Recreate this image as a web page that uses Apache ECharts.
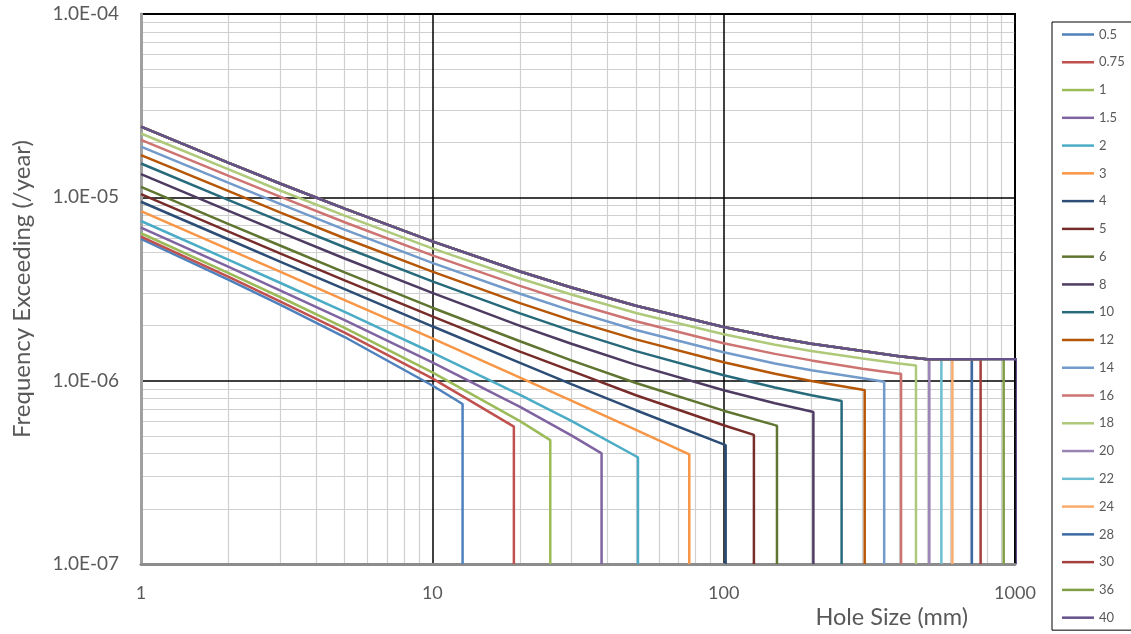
<!DOCTYPE html>
<html>
<head>
<meta charset="utf-8">
<script src="https://cdn.jsdelivr.net/npm/echarts@6/dist/echarts.min.js"></script>
<style>
  html, body { margin: 0; padding: 0; background: #fff; }
  #chart { width: 1131px; height: 634px; }
</style>
</head>
<body>
<div id="chart"></div>
<script>
// ---- data ----
const pipeSizes = ['0.5','0.75','1','1.5','2','3','4','5','6','8','10','12','14','16','18','20','22','24','28','30','36','40'];
const maxHoleMm = [12.7, 19.05, 25.4, 38.1, 50.8, 76.2, 101.6, 127, 152.4, 203.2, 254, 304.8, 355.6, 406.4, 457.2, 508, 558.8, 609.6, 711.2, 762, 914.4, 1016];
const holeSizes = [1, 2, 3, 5, 10, 20, 30, 50, 100, 150, 200, 300, 400, 500];

const freq_0_5  = [5.93e-6, 3.55e-6, 2.60e-6, 1.73e-6, 9.41e-7];
const freq_0_75 = [6.10e-6, 3.68e-6, 2.71e-6, 1.83e-6, 1.03e-6];
const freq_1    = [6.37e-6, 3.86e-6, 2.86e-6, 1.94e-6, 1.11e-6, 6.02e-7];
const freq_1_5  = [6.83e-6, 4.17e-6, 3.11e-6, 2.14e-6, 1.26e-6, 7.19e-7, 5.03e-7];
const freq_2    = [7.43e-6, 4.56e-6, 3.42e-6, 2.37e-6, 1.42e-6, 8.36e-7, 6.03e-7, 3.87e-7];
const freq_3    = [8.41e-6, 5.20e-6, 3.93e-6, 2.75e-6, 1.70e-6, 1.04e-6, 7.79e-7, 5.39e-7];
const freq_4    = [9.46e-6, 5.89e-6, 4.46e-6, 3.16e-6, 1.98e-6, 1.25e-6, 9.57e-7, 6.90e-7, 4.49e-7];
const freq_5    = [1.04e-5, 6.50e-6, 4.95e-6, 3.52e-6, 2.24e-6, 1.44e-6, 1.13e-6, 8.33e-7, 5.71e-7];
const freq_6    = [1.14e-5, 7.15e-6, 5.46e-6, 3.90e-6, 2.50e-6, 1.64e-6, 1.29e-6, 9.71e-7, 6.86e-7, 5.72e-7];
const freq_8    = [1.34e-5, 8.44e-6, 6.46e-6, 4.64e-6, 3.01e-6, 1.99e-6, 1.59e-6, 1.22e-6, 8.86e-7, 7.53e-7, 6.79e-7];
const freq_10   = [1.53e-5, 9.65e-6, 7.41e-6, 5.34e-6, 3.48e-6, 2.33e-6, 1.87e-6, 1.45e-6, 1.07e-6, 9.18e-7, 8.33e-7];
const freq_12   = [1.70e-5, 1.08e-5, 8.27e-6, 5.98e-6, 3.93e-6, 2.65e-6, 2.14e-6, 1.68e-6, 1.26e-6, 1.09e-6, 9.96e-7, 8.92e-7];
const freq_14   = [1.89e-5, 1.20e-5, 9.21e-6, 6.67e-6, 4.39e-6, 2.98e-6, 2.41e-6, 1.89e-6, 1.43e-6, 1.24e-6, 1.14e-6, 1.03e-6];
const freq_16   = [2.06e-5, 1.31e-5, 1.01e-5, 7.31e-6, 4.82e-6, 3.29e-6, 2.67e-6, 2.11e-6, 1.60e-6, 1.40e-6, 1.29e-6, 1.16e-6, 1.09e-6];
const freq_18   = [2.23e-5, 1.42e-5, 1.09e-5, 7.95e-6, 5.27e-6, 3.61e-6, 2.95e-6, 2.34e-6, 1.79e-6, 1.57e-6, 1.45e-6, 1.32e-6, 1.24e-6];
// sizes 20" and above share the same curve up to 500 mm
const freq_20up = [2.43e-5, 1.54e-5, 1.19e-5, 8.67e-6, 5.75e-6, 3.94e-6, 3.22e-6, 2.56e-6, 1.96e-6, 1.72e-6, 1.59e-6, 1.45e-6, 1.36e-6, 1.31e-6];

const freqAtMaxHole = [7.46e-7, 5.61e-7, 4.74e-7, 4.01e-7, 3.82e-7, 3.96e-7, 4.45e-7, 5.06e-7, 5.68e-7, 6.75e-7,
                       7.75e-7, 8.89e-7, 9.86e-7, 1.09e-6, 1.21e-6, 1.31e-6, 1.31e-6, 1.31e-6, 1.31e-6, 1.31e-6, 1.31e-6, 1.31e-6];
const freqFloor = 1e-7;

const seriesFreq = [freq_0_5, freq_0_75, freq_1, freq_1_5, freq_2, freq_3, freq_4, freq_5, freq_6, freq_8,
                    freq_10, freq_12, freq_14, freq_16, freq_18,
                    freq_20up, freq_20up, freq_20up, freq_20up, freq_20up, freq_20up, freq_20up];

const xTickLabels = ['1', '10', '100', '1000'];
const yTickLabels = ['1.0E-07', '1.0E-06', '1.0E-05', '1.0E-04'];

const colors = ['#4F81BD','#C0504D','#9BBB59','#8064A2','#4BACC6','#F79646',
                '#2C4D75','#772C2A','#5F7530','#4D3B62','#276A7C','#B65708',
                '#729ACA','#CD7371','#AFC97A','#9983B5','#6FBDD1','#F9AB6B',
                '#3C6AA5','#A33F3C','#7F9E44','#64508A'];

const X_MIN = 1, X_MAX = 1000, Y_MIN = 1e-7, Y_MAX = 1e-4;

// minor grid positions (2..9 in each decade)
const minorX = [], minorY = [];
[1, 10, 100].forEach(d => { for (let k = 2; k <= 9; k++) minorX.push(k * d); });
[1e-7, 1e-6, 1e-5].forEach(d => { for (let k = 2; k <= 9; k++) minorY.push(+(k * d).toPrecision(3)); });

const FONT = 'Lato';
const GREY = '#595959';

const series = pipeSizes.map((name, i) => {
  const data = seriesFreq[i].map((v, j) => [holeSizes[j], v]);
  data.push([maxHoleMm[i], freqAtMaxHole[i]]);
  data.push([maxHoleMm[i], freqFloor]);
  return {
    name: name,
    type: 'line',
    data: data,
    symbol: 'none',
    showSymbol: false,
    clip: true,
    lineStyle: { width: 2.5, color: colors[i] },
    itemStyle: { color: colors[i] },
    emphasis: { disabled: true },
    z: 3
  };
});

// minor grid lines drawn through the axes' own scales
const minorLines = minorX.map(v => [{ coord: [v, Y_MIN] }, { coord: [v, Y_MAX] }])
  .concat(minorY.map(v => [{ coord: [X_MIN, v] }, { coord: [X_MAX, v] }]));
series.unshift({
  name: '_grid',
  type: 'line',
  data: [],
  silent: true,
  z: 1,
  markLine: {
    silent: true,
    symbol: 'none',
    animation: false,
    z: 1,
    label: { show: false },
    lineStyle: { color: '#D0D0D0', width: 1.2, type: 'solid' },
    emphasis: { disabled: true },
    data: minorLines
  }
});

function yLabel(v) {
  const e = Math.round(Math.log10(v));
  const t = yTickLabels[e + 7];
  return t !== undefined ? t : '';
}
function xLabel(v) {
  const e = Math.round(Math.log10(v));
  const t = xTickLabels[e];
  return t !== undefined ? t : '';
}

const chart = echarts.init(document.getElementById('chart'), null, { renderer: 'canvas' });
chart.setOption({
  animation: false,
  color: colors,
  textStyle: { fontFamily: FONT },
  grid: {
    left: 141, top: 14, right: 116, bottom: 70,
    show: true, borderColor: '#000', borderWidth: 2, backgroundColor: '#fff', z: 0
  },
  xAxis: {
    type: 'log', logBase: 10, min: X_MIN, max: X_MAX, z: 2,
    name: 'Hole Size (mm)',
    nameLocation: 'end',
    nameGap: -47,
    nameTextStyle: { fontFamily: FONT, fontSize: 23.5, color: GREY, align: 'right', verticalAlign: 'top', padding: [41, 0, 0, 0] },
    axisLine: { show: true, lineStyle: { color: '#8C8C8C', width: 3 } },
    axisTick: { show: false },
    axisLabel: { formatter: xLabel, fontFamily: FONT, fontSize: 18, color: GREY, margin: 20 },
    splitLine: { show: true, showMinLine: false, lineStyle: { color: '#000', width: 1.5 } },
    minorTick: { show: false }, minorSplitLine: { show: false }
  },
  yAxis: {
    type: 'log', logBase: 10, min: Y_MIN, max: Y_MAX, z: 2,
    name: 'Frequency Exceeding (/year)',
    nameLocation: 'middle',
    nameGap: 107,
    nameRotate: 90,
    nameTextStyle: { fontFamily: FONT, fontSize: 24, color: GREY },
    axisLine: { show: true, lineStyle: { color: '#A0A0A0', width: 3 } },
    axisTick: { show: false },
    axisLabel: { formatter: yLabel, fontFamily: FONT, fontSize: 19, color: GREY, margin: 22 },
    splitLine: { show: true, showMinLine: false, lineStyle: { color: '#000', width: 1.5 } },
    minorTick: { show: false }, minorSplitLine: { show: false }
  },
  legend: {
    orient: 'vertical',
    left: 1052, top: 22,
    data: pipeSizes,
    icon: 'path://M0,0H32V2.5H0Z',
    padding: [6, 40, 6, 10],
    itemWidth: 32, itemHeight: 14, itemGap: 14.77,
    borderColor: '#000', borderWidth: 1, backgroundColor: '#fff',
    textStyle: { fontFamily: FONT, fontSize: 13, color: GREY },
    selectedMode: false
  },
  series: series
});
</script>
</body>
</html>
